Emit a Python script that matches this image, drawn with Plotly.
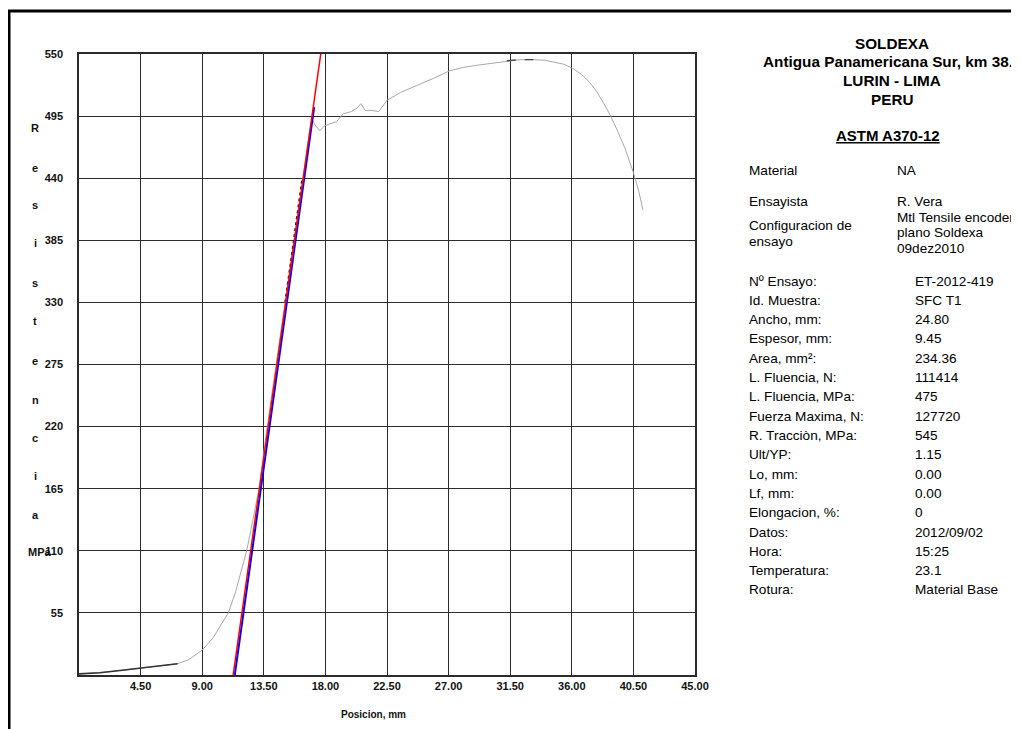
import plotly.graph_objects as go

# ---------------- data ----------------
pos_mm = [0, 1.5, 3.0, 4.5, 6.0, 7.2, 8.0, 9.0, 9.8, 10.4, 10.9, 11.4, 11.9, 12.25,
          12.7, 13.15, 13.75, 14.4, 15.05, 15.68, 16.3, 16.85, 17.05, 17.25, 17.6,
          17.9, 18.3, 18.8, 19.3, 19.9, 20.3, 20.6, 20.9, 21.4, 21.9, 22.2, 22.5,
          23.5, 24.7, 26.0, 27.05, 28.0, 29.05, 30.2, 31.25, 32.2, 33.2, 34.0, 34.6,
          35.4, 36.1, 36.7, 37.3, 37.8, 38.3, 38.8, 39.3, 39.9, 40.5, 40.9, 41.2]
stress_mpa = [1, 2, 4, 6, 8, 10, 13.5, 22, 33, 45, 55, 72, 93, 110,
              137, 165, 220, 275, 330, 385, 440, 482, 492, 487, 482,
              486, 488, 490, 497, 499, 502, 506, 500, 500, 499, 504, 509,
              516, 522, 529, 535, 538, 540, 542, 544, 545, 545, 544.5, 543,
              541, 537, 532, 525, 517, 507, 496, 483, 466, 445, 428, 412]

red_x = [11.26, 17.66]
red_y = [0, 550]
blue_x = [11.38, 17.18]
blue_y = [0, 503]

x_ticks = [4.5, 9.0, 13.5, 18.0, 22.5, 27.0, 31.5, 36.0, 40.5, 45.0]
y_ticks = [55, 110, 165, 220, 275, 330, 385, 440, 495, 550]

y_title_letters = ["R", "e", "s", "i", "s", "t", "e", "n", "c", "i", "a"]
y_title_px = [128, 168, 205, 243, 283, 321, 361, 400, 438, 476, 515]

header_lines = ["SOLDEXA", "Antigua Panamericana Sur, km 38.5", "LURIN - LIMA", "PERU"]
header_px = [44, 62, 81, 99]

info_labels = ["Nº Ensayo:", "Id. Muestra:", "Ancho, mm:", "Espesor, mm:", "Area, mm²:",
               "L. Fluencia, N:", "L. Fluencia, MPa:", "Fuerza Maxima, N:",
               "R. Tracciòn, MPa:", "Ult/YP:", "Lo, mm:", "Lf, mm:", "Elongacion, %:",
               "Datos:", "Hora:", "Temperatura:", "Rotura:"]
info_values = ["ET-2012-419", "SFC T1", "24.80", "9.45", "234.36", "111414", "475",
               "127720", "545", "1.15", "0.00", "0.00", "0", "2012/09/02", "15:25",
               "23.1", "Material Base"]

# ---------------- layout helpers ----------------
OFF = 8                      # page body margin of the browser
W, H = 1019 - OFF, 729 - OFF
L, R, T, B = 79, 695, 54, 675   # plot area in window pixels
FONT = "Liberation Sans, Arial, sans-serif"


def px_x(px):
    return (px - L) / (R - L)


def px_y(py):
    return (B - py) / (B - T)


fig = go.Figure()

fig.add_trace(go.Scatter(x=pos_mm, y=stress_mpa, mode="lines",
                         line=dict(color="#a8a8a8", width=1), hoverinfo="skip"))
fig.add_trace(go.Scatter(x=pos_mm[:6], y=stress_mpa[:6], mode="lines",
                         line=dict(color="#333333", width=1.6), hoverinfo="skip"))
fig.add_trace(go.Scatter(x=pos_mm[18:21], y=stress_mpa[18:21], mode="lines",
                         line=dict(color="#222222", width=1.5, dash="dot"), hoverinfo="skip"))
fig.add_trace(go.Scatter(x=pos_mm[44:47], y=stress_mpa[44:47], mode="lines",
                         line=dict(color="#444444", width=1.3, dash="dash"), hoverinfo="skip"))
fig.add_trace(go.Scatter(x=blue_x, y=blue_y, mode="lines",
                         line=dict(color="#0000ff", width=2), hoverinfo="skip"))
fig.add_trace(go.Scatter(x=red_x, y=red_y, mode="lines",
                         line=dict(color="#ff0000", width=1.5), hoverinfo="skip"))

ann = []
for ch, py in zip(y_title_letters, y_title_px):
    ann.append(dict(x=px_x(35), y=px_y(py), xref="paper", yref="paper", text=ch,
                    showarrow=False, xanchor="center", yanchor="middle",
                    font=dict(family=FONT, size=11, color="#111", weight="bold")))
ann.append(dict(x=px_x(40), y=px_y(552), xref="paper", yref="paper", text="MPa",
                showarrow=False, xanchor="center", yanchor="middle",
                font=dict(family=FONT, size=11, color="#111", weight="bold")))
ann.append(dict(x=px_x(373), y=px_y(714), xref="paper", yref="paper", text="Posicion, mm",
                showarrow=False, xanchor="center", yanchor="middle",
                font=dict(family=FONT, size=10, color="#111", weight="bold")))

for txt, py in zip(header_lines, header_px):
    ann.append(dict(x=px_x(892), y=px_y(py), xref="paper", yref="paper", text=txt,
                    showarrow=False, xanchor="center", yanchor="middle",
                    font=dict(family=FONT, size=15.3, color="#000", weight="bold")))
ann.append(dict(x=px_x(888), y=px_y(135), xref="paper", yref="paper", text="ASTM A370-12",
                showarrow=False, xanchor="center", yanchor="middle",
                font=dict(family=FONT, size=15, color="#000", weight="bold",
                          lineposition="under")))

TS = 13.6
left_block = [("Material", 171), ("Ensayista", 201), ("Configuracion de", 225), ("ensayo", 241)]
right_block = [("NA", 171), ("R. Vera", 201), ("Mtl Tensile encoder", 217),
               ("plano Soldexa", 233), ("09dez2010", 249)]
for txt, py in left_block:
    ann.append(dict(x=px_x(747), y=px_y(py), xref="paper", yref="paper", text=txt,
                    showarrow=False, xanchor="left", yanchor="middle",
                    font=dict(family=FONT, size=TS, color="#000")))
for txt, py in right_block:
    ann.append(dict(x=px_x(895), y=px_y(py), xref="paper", yref="paper", text=txt,
                    showarrow=False, xanchor="left", yanchor="middle",
                    font=dict(family=FONT, size=TS, color="#000")))

row0, step = 281, 19.31
for i, (lab, val) in enumerate(zip(info_labels, info_values)):
    py = row0 + i * step
    ann.append(dict(x=px_x(747), y=px_y(py), xref="paper", yref="paper", text=lab,
                    showarrow=False, xanchor="left", yanchor="middle",
                    font=dict(family=FONT, size=TS, color="#000")))
    ann.append(dict(x=px_x(913), y=px_y(py), xref="paper", yref="paper", text=val,
                    showarrow=False, xanchor="left", yanchor="middle",
                    font=dict(family=FONT, size=TS, color="#000")))

shapes = [
    dict(type="line", xref="paper", yref="paper", x0=px_x(9), x1=px_x(9),
         y0=px_y(10), y1=px_y(740), line=dict(color="#000", width=3)),
    dict(type="line", xref="paper", yref="paper", x0=px_x(7.5), x1=px_x(1030),
         y0=px_y(11), y1=px_y(11), line=dict(color="#000", width=3)),
]

fig.update_layout(
    width=W, height=H,
    margin=dict(l=L - OFF, r=W - (R - OFF), t=T - OFF, b=H - (B - OFF), pad=0),
    paper_bgcolor="white", plot_bgcolor="white",
    showlegend=False,
    annotations=ann, shapes=shapes,
    xaxis=dict(range=[0, 45], tickvals=x_ticks, ticktext=[f"{v:.2f}" for v in x_ticks],
               showgrid=True, gridcolor="#2b2b2b", gridwidth=1.3,
               showline=True, linecolor="#2b2b2b", linewidth=1.5, mirror=True,
               ticks="", ticklabelstandoff=0, zeroline=False,
               tickfont=dict(family=FONT, size=11, color="#111", weight="bold")),
    yaxis=dict(range=[0, 550], tickvals=y_ticks, ticktext=[str(v) for v in y_ticks],
               showgrid=True, gridcolor="#2b2b2b", gridwidth=1.3,
               showline=True, linecolor="#2b2b2b", linewidth=1.5, mirror=True,
               ticks="", ticklabelstandoff=12, zeroline=False,
               tickfont=dict(family=FONT, size=11, color="#111", weight="bold")),
)

fig.write_html("out.html")
